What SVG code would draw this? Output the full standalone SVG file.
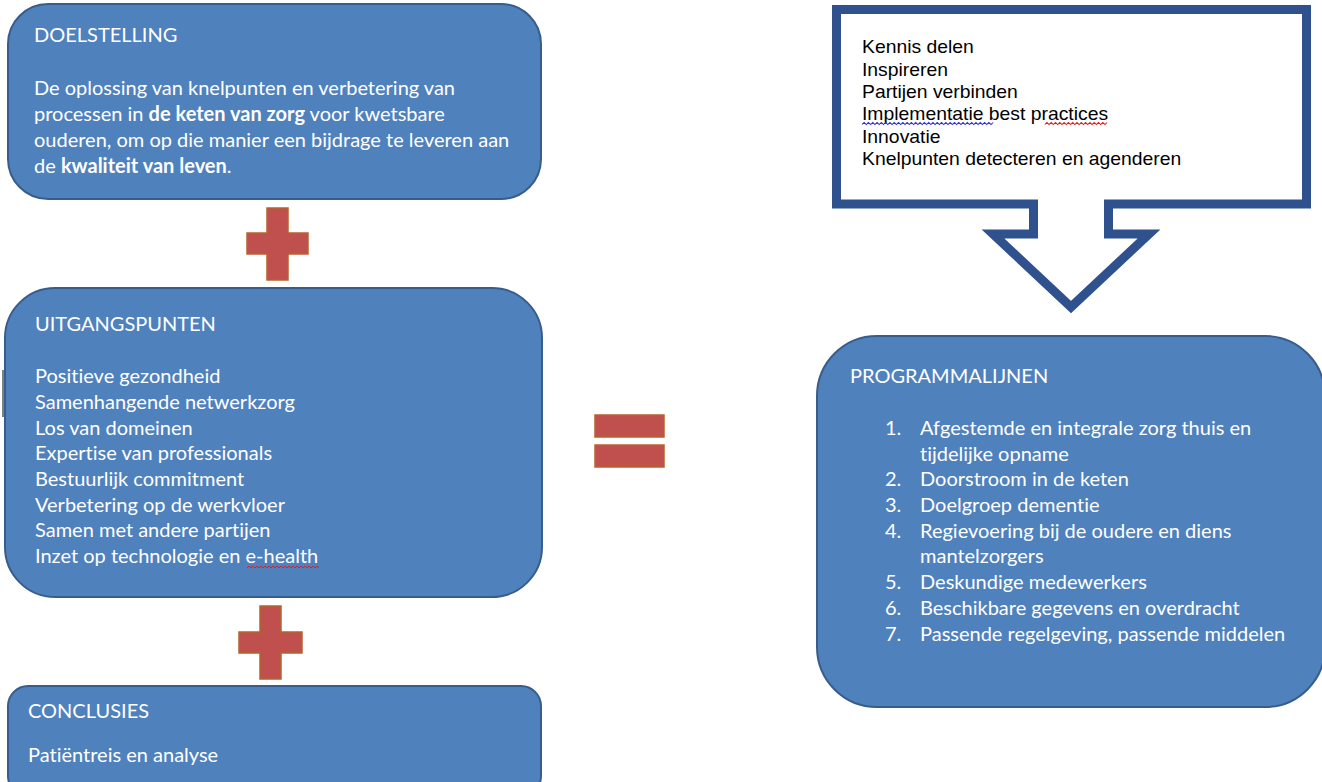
<svg xmlns="http://www.w3.org/2000/svg" width="1322" height="782" viewBox="0 0 1322 782">
<style>
.box{fill:#4F81BD;stroke:#385D8A;stroke-width:2}
.t{font-family:Lato,"Open Sans","Noto Sans",sans-serif;font-size:20px;fill:#FFFFFF;font-variant-ligatures:none}
.b{font-weight:bold}
.plus{fill:#C0504D;stroke:#B7612C;stroke-width:1.5}
.ct{font-family:"Liberation Sans",Arial,sans-serif;font-size:18px;fill:#000000}
.sq{fill:none;stroke-width:1}
</style>
<rect width="1322" height="782" fill="#FFFFFF"/>

<g id="doelstelling">
<rect class="box" x="8" y="4" width="533" height="195" rx="40" ry="40"/>
<text class="t" x="34" y="42">DOELSTELLING</text>
<text class="t" x="34" y="94.5">De oplossing van knelpunten en verbetering van</text>
<text class="t" x="34" y="120.5">processen in <tspan class="b">de keten van zorg</tspan> voor kwetsbare</text>
<text class="t" x="34" y="146.5">ouderen, om op die manier een bijdrage te leveren aan</text>
<text class="t" x="34" y="172.5">de <tspan class="b">kwaliteit van leven</tspan>.</text>
</g>

<g id="plus1">
<path class="plus" d="M267,208 H288 V233 H308 V254 H288 V280 H267 V254 H247 V233 H267 Z"/>
</g>

<g id="uitgangspunten">
<rect class="box" x="5" y="288" width="537" height="309" rx="50" ry="50"/>
<line x1="3" y1="370" x2="3" y2="417" stroke="#808080" stroke-width="2"/>
<text class="t" x="35" y="331">UITGANGSPUNTEN</text>
<text class="t" x="35" y="383">Positieve gezondheid</text>
<text class="t" x="35" y="409">Samenhangende netwerkzorg</text>
<text class="t" x="35" y="435">Los van domeinen</text>
<text class="t" x="35" y="460">Expertise van professionals</text>
<text class="t" x="35" y="486">Bestuurlijk commitment</text>
<text class="t" x="35" y="512">Verbetering op de werkvloer</text>
<text class="t" x="35" y="537">Samen met andere partijen</text>
<text class="t" x="35" y="563">Inzet op technologie en e-health</text>
<path class="sq" stroke="#E02020" d="M247,568 l2,-2 l2,2 l2,-2 l2,2 l2,-2 l2,2 l2,-2 l2,2 l2,-2 l2,2 l2,-2 l2,2 l2,-2 l2,2 l2,-2 l2,2 l2,-2 l2,2 l2,-2 l2,2 l2,-2 l2,2 l2,-2 l2,2 l2,-2 l2,2 l2,-2 l2,2 l2,-2 l2,2 l2,-2 l2,2 l2,-2 l2,2 l2,-2 l2,2"/>
</g>

<g id="plus2">
<path class="plus" d="M260,606 H281 V632 H302 V653 H281 V679 H260 V653 H239 V632 H260 Z"/>
</g>

<g id="conclusies">
<rect class="box" x="8" y="686" width="533" height="110" rx="20" ry="20"/>
<text class="t" x="28" y="718">CONCLUSIES</text>
<text class="t" x="28" y="762">Patiëntreis en analyse</text>
</g>

<g id="gelijk">
<rect class="plus" x="595" y="415" width="69" height="22"/>
<rect class="plus" x="595" y="445" width="69" height="22"/>
</g>

<g id="callout">
<path d="M836.5,9.5 H1306.5 V204 H1108.5 V234 H1149 L1071,307 L993,234 H1033.5 V204 H836.5 Z" fill="#FFFFFF" stroke="#2F528F" stroke-width="9" stroke-linejoin="miter"/>
<g transform="translate(862,0) scale(1.075,1) translate(-862,0)">
<text class="ct" x="862" y="53">Kennis delen</text>
<text class="ct" x="862" y="76">Inspireren</text>
<text class="ct" x="862" y="98">Partijen verbinden</text>
<text class="ct" x="862" y="120.5">Implementatie best practices</text>
<text class="ct" x="862" y="143">Innovatie</text>
<text class="ct" x="862" y="165.5">Knelpunten detecteren en agenderen</text>
<path class="sq" stroke="#3030E0" d="M862,124.5 l2,-2 l2,2 l2,-2 l2,2 l2,-2 l2,2 l2,-2 l2,2 l2,-2 l2,2 l2,-2 l2,2 l2,-2 l2,2 l2,-2 l2,2 l2,-2 l2,2 l2,-2 l2,2 l2,-2 l2,2 l2,-2 l2,2 l2,-2 l2,2 l2,-2 l2,2 l2,-2 l2,2 l2,-2 l2,2 l2,-2 l2,2 l2,-2 l2,2 l2,-2 l2,2 l2,-2 l2,2 l2,-2 l2,2 l2,-2 l2,2 l2,-2 l2,2 l2,-2 l2,2 l2,-2 l2,2 l2,-2 l2,2 l2,-2 l2,2 l2,-2 l2,2 l2,-2 l2,2 l2,-2 l2,2 l2,-2"/>
<path class="sq" stroke="#E02020" d="M1032,124.5 l2,-2 l2,2 l2,-2 l2,2 l2,-2 l2,2 l2,-2 l2,2 l2,-2 l2,2 l2,-2 l2,2 l2,-2 l2,2 l2,-2 l2,2 l2,-2 l2,2 l2,-2 l2,2 l2,-2 l2,2 l2,-2 l2,2 l2,-2 l2,2 l2,-2 l2,2 l2,-2"/>
</g>
</g>

<g id="programmalijnen">
<rect class="box" x="817" y="336" width="508" height="371" rx="60" ry="60"/>
<text class="t" x="850" y="383">PROGRAMMALIJNEN</text>
<text class="t" x="885" y="435">1.</text><text class="t" x="920" y="435">Afgestemde en integrale zorg thuis en</text>
<text class="t" x="920" y="461">tijdelijke opname</text>
<text class="t" x="885" y="486">2.</text><text class="t" x="920" y="486">Doorstroom in de keten</text>
<text class="t" x="885" y="512">3.</text><text class="t" x="920" y="512">Doelgroep dementie</text>
<text class="t" x="885" y="538">4.</text><text class="t" x="920" y="538">Regievoering bij de oudere en diens</text>
<text class="t" x="920" y="563">mantelzorgers</text>
<text class="t" x="885" y="589">5.</text><text class="t" x="920" y="589">Deskundige medewerkers</text>
<text class="t" x="885" y="615">6.</text><text class="t" x="920" y="615">Beschikbare gegevens en overdracht</text>
<text class="t" x="885" y="641">7.</text><text class="t" x="920" y="641">Passende regelgeving, passende middelen</text>
</g>
</svg>
